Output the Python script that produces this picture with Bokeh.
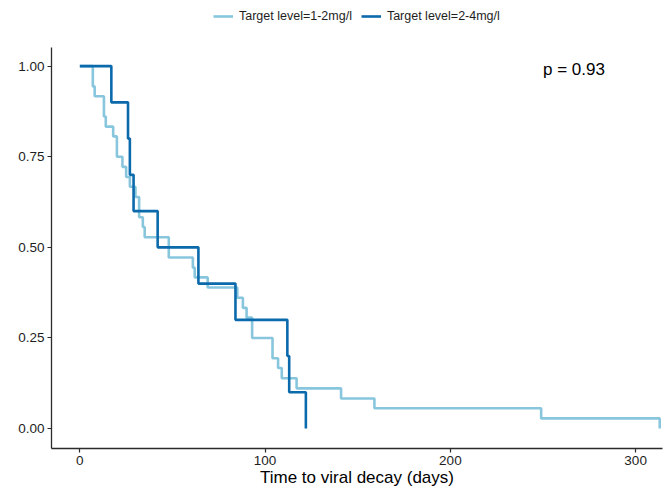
from bokeh.plotting import figure
from bokeh.models import Legend, LegendItem, Label, Range1d, FixedTicker
from bokeh.embed import file_html
from bokeh.resources import INLINE

# ---- data ----
groups = ["Target level=1-2mg/l", "Target level=2-4mg/l"]

time_low = [0, 7, 8, 13, 14, 18, 20, 23, 25, 27, 30, 32, 34, 35, 48, 61, 62, 69,
            85, 88, 90, 93, 104, 107, 109, 117, 141, 159, 249, 313]
surv_low = [1.0, 0.944, 0.917, 0.861, 0.833, 0.806, 0.75, 0.722, 0.694, 0.667,
            0.639, 0.583, 0.556, 0.528, 0.472, 0.444, 0.417, 0.389, 0.361, 0.333,
            0.306, 0.25, 0.194, 0.167, 0.139, 0.111, 0.083, 0.056, 0.028, 0.0]

time_high = [0, 17, 26, 27, 29, 42, 64, 84, 112, 113, 122]
surv_high = [1.0, 0.9, 0.8, 0.7, 0.6, 0.5, 0.4, 0.3, 0.2, 0.1, 0.0]

x_ticks = [0, 100, 200, 300]
y_ticks = [0.0, 0.25, 0.5, 0.75, 1.0]
y_tick_labels = {0.0: "0.00", 0.25: "0.25", 0.5: "0.50", 0.75: "0.75", 1.0: "1.00"}
p_text = "p = 0.93"

colors = ["#88c6de", "#0b6aab"]
FONT = "Liberation Sans"

# frame spans the full height above the x axis, so the legend can sit inside it;
# the y axis line is limited to the data panel with bounds
p = figure(width=670, height=489, output_backend="svg", toolbar_location=None,
           x_range=Range1d(-15.3, 314.5), y_range=Range1d(-0.055, 1.181),
           min_border_left=51, min_border_right=8, min_border_top=0, min_border_bottom=38)

p.outline_line_color = None
p.xgrid.visible = False
p.ygrid.visible = False
p.background_fill_color = "white"

r_low = p.step(time_low, surv_low, mode="after", line_color=colors[0], line_width=2.6)
r_high = p.step(time_high, surv_high, mode="after", line_color=colors[1], line_width=2.6)

# axes
for ax in (p.xaxis[0], p.yaxis[0]):
    ax.axis_line_color = "#2b2b2b"
    ax.axis_line_width = 1.3
    ax.major_tick_line_color = "#2b2b2b"
    ax.major_tick_line_width = 1.2
    ax.major_tick_out = 4
    ax.major_tick_in = 0
    ax.minor_tick_line_color = None
    ax.major_label_text_font = FONT
    ax.major_label_text_font_size = "13.5px"
    ax.major_label_text_color = "#1e1e1e"

p.xaxis[0].ticker = FixedTicker(ticks=x_ticks)
p.yaxis[0].ticker = FixedTicker(ticks=y_ticks)
p.yaxis[0].bounds = (-0.055, 1.05)
p.yaxis[0].major_label_overrides = y_tick_labels
p.xaxis[0].major_label_standoff = 3
p.yaxis[0].major_label_standoff = 3

p.xaxis[0].axis_label = "Time to viral decay (days)"
p.xaxis[0].axis_label_text_font = FONT
p.xaxis[0].axis_label_text_font_size = "17px"
p.xaxis[0].axis_label_text_font_style = "normal"
p.xaxis[0].axis_label_text_color = "black"
p.xaxis[0].axis_label_standoff = 0

# p-value
p.add_layout(Label(x=250, y=0.99, text=p_text, text_font=FONT, text_font_size="17px",
                   text_align="left", text_baseline="middle", text_color="black"))

# legend
legend = Legend(items=[LegendItem(label=groups[0], renderers=[r_low]),
                       LegendItem(label=groups[1], renderers=[r_high])],
                location=(162, 425), orientation="horizontal",
                glyph_width=20, glyph_height=14, label_standoff=6, spacing=9,
                padding=2, margin=0, border_line_color=None, background_fill_alpha=0,
                label_text_font=FONT, label_text_font_size="12.5px",
                label_text_color="#1e1e1e", label_height=14)
p.add_layout(legend, "center")

open("out.html", "w").write(file_html(p, INLINE))
